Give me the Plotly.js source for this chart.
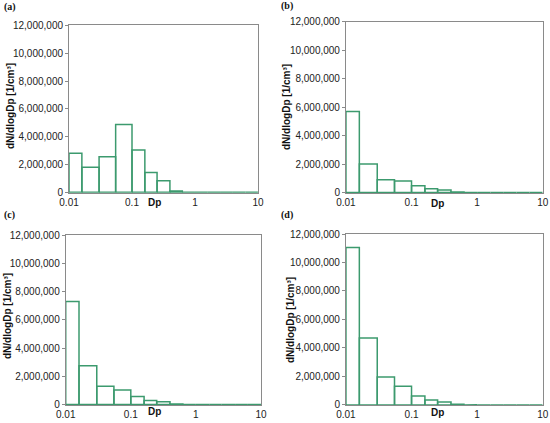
<!DOCTYPE html>
<html><head><meta charset="utf-8">
<script src="https://cdn.plot.ly/plotly-3.0.1.min.js"></script>
<style>html,body{margin:0;padding:0;background:#fff}#c{width:550px;height:423px}</style>
</head><body><div id="c"></div>
<script>
// Bin edges of particle diameter Dp (µm)
const binEdges = [0.01, 0.016, 0.03, 0.055, 0.1, 0.16, 0.25, 0.4, 0.63, 1, 1.6, 2.5, 4, 6.3, 10];
// dN/dlogDp [1/cm³] per bin
const valuesA = [2800000, 1800000, 2550000, 4880000, 3050000, 1430000, 830000, 100000, 5000, 0, 0, 0, 0, 0];
const valuesB = [5700000, 2000000, 900000, 820000, 480000, 270000, 190000, 40000, 5000, 0, 0, 0, 0, 0];
const valuesC = [7300000, 2750000, 1300000, 1030000, 570000, 290000, 190000, 40000, 5000, 0, 0, 0, 0, 0];
const valuesD = [11050000, 4700000, 1950000, 1300000, 620000, 340000, 210000, 50000, 5000, 0, 0, 0, 0, 0];
const panelLabels = ['(a)', '(b)', '(c)', '(d)'];
const xTickVals = [0.01, 0.1, 1, 10];
const xTickText = ['0.01', '0.1', '1', '10'];
const yTickVals = [0, 2000000, 4000000, 6000000, 8000000, 10000000, 12000000];

const green = '#3c9a6e';
function outline(edges, vals) {
  const x = [], y = [];
  for (let i = 0; i < vals.length; i++) {
    const l = edges[i], r = edges[i + 1], v = vals[i];
    x.push(l, l, r, r, l, null);
    y.push(0, v, v, 0, 0, null);
  }
  return {x, y};
}
const series = [valuesA, valuesB, valuesC, valuesD];
const traces = series.map((vals, i) => {
  const o = outline(binEdges, vals);
  const s = i === 0 ? '' : String(i + 1);
  return {x: o.x, y: o.y, type: 'scatter', mode: 'lines', xaxis: 'x' + s, yaxis: 'y' + s,
    line: {color: green, width: 1.5}, connectgaps: false, hoverinfo: 'skip', showlegend: false};
});

const domains = [
  {x: [0.1255, 0.469], y: [0.5444, 0.940]},
  {x: [0.629, 0.9867], y: [0.5437, 0.9487]},
  {x: [0.1195, 0.4745], y: [0.0426, 0.4444]},
  {x: [0.629, 0.9867], y: [0.0418, 0.4468]}
];
const sans = 'Arial';
const tickFont = {family: sans, size: 10, color: '#222'};
const layout = {
  width: 550, height: 423, margin: {l: 0, r: 0, t: 0, b: 0},
  paper_bgcolor: '#fff', plot_bgcolor: '#fff', showlegend: false,
  annotations: []
};
domains.forEach((d, i) => {
  const s = i === 0 ? '' : String(i + 1);
  layout['xaxis' + s] = {domain: d.x, anchor: 'y' + s, type: 'log', range: [-2, 1],
    tickvals: xTickVals, ticktext: xTickText, showgrid: false, zeroline: false,
    showline: true, mirror: true, linecolor: '#8a8a8a', linewidth: 1, ticks: '',
    tickfont: tickFont, fixedrange: true};
  layout['yaxis' + s] = {domain: d.y, anchor: 'x' + s, range: [-30000, 12000000],
    tickvals: yTickVals, tickformat: ',d', showgrid: false, zeroline: false,
    showline: true, mirror: true, linecolor: '#8a8a8a', linewidth: 1,
    ticks: 'outside', ticklen: 3, tickcolor: '#8a8a8a', tickfont: tickFont, fixedrange: true};
});
// y-axis titles
const yTitlePos = [[11, 106], [286, 107], [7, 316], [290, 320]];
yTitlePos.forEach(p => layout.annotations.push({
  text: '<b>dN/dlogDp [1/cm³]</b>', xref: 'paper', yref: 'paper',
  x: p[0] / 550, y: 1 - p[1] / 423, showarrow: false, textangle: -90,
  font: {family: sans, size: 10, color: '#111'},
  xanchor: 'center', yanchor: 'middle'}));
// Dp labels
const dpPos = [[154, 202], [437, 203], [154, 411], [437, 412]];
dpPos.forEach(p => layout.annotations.push({
  text: '<b>Dp</b>', xref: 'paper', yref: 'paper', x: p[0] / 550, y: 1 - p[1] / 423,
  showarrow: false, font: {family: sans, size: 10, color: '#111'},
  xanchor: 'center', yanchor: 'middle'}));
// Panel labels
const lblPos = [[2, 7], [279, 6], [2, 215], [279, 215]];
lblPos.forEach((p, i) => layout.annotations.push({
  text: '<b>' + panelLabels[i] + '</b>', xref: 'paper', yref: 'paper', x: p[0] / 550, y: 1 - p[1] / 423,
  showarrow: false, font: {family: 'Liberation Serif', size: 10, color: '#111'},
  xanchor: 'left', yanchor: 'middle'}));

Plotly.newPlot('c', traces, layout, {staticPlot: true, displayModeBar: false});
</script></body></html>
